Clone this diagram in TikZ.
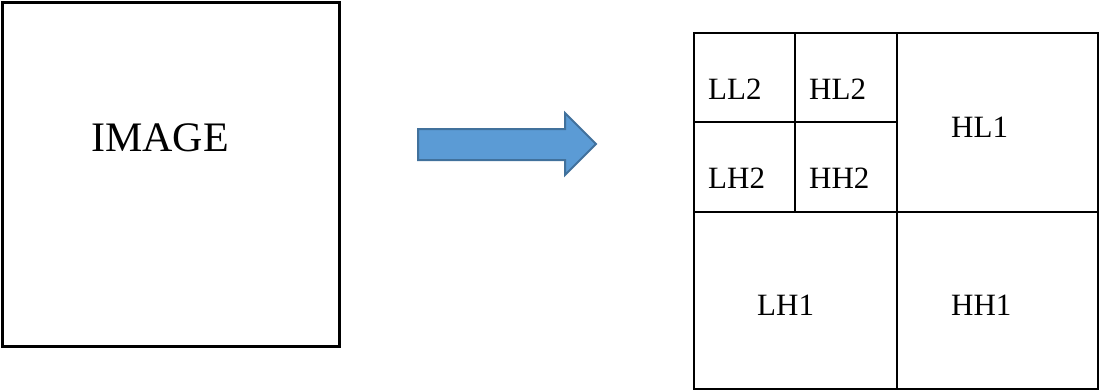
\documentclass[tikz,border=0pt]{standalone}
\usepackage{fontspec}
\setmainfont{Liberation Serif}
\definecolor{arrowfill}{HTML}{5B9BD5}
\definecolor{arrowline}{HTML}{41719C}
\tikzset{
  frame/.style={draw=black, line width=3pt},
  gridline/.style={draw=black, line width=2.6pt},
  biglabel/.style={anchor=base west, inner sep=0pt, font=\fontsize{42}{42}\selectfont},
  cell/.style={anchor=base west, inner sep=0pt, font=\fontsize{31}{31}\selectfont},
  bluearrow/.style={fill=arrowfill, draw=arrowline, line width=2pt, line join=miter}
}
\begin{document}
\begin{tikzpicture}[x=1pt,y=-1pt]
\useasboundingbox (0,0) rectangle (1100,391);
% input image
\draw[frame] (2,2) rectangle (339,346);
\node[biglabel] (img) at (91,151) {IMAGE};
% arrow
\draw[bluearrow] (418,129) -- (565,129) -- (565,113) -- (596,144) -- (565,175) -- (565,160) -- (418,160) -- cycle;
% decomposition grid
\draw[gridline] (694,33) rectangle (1098,389);
\draw[gridline] (897,33) -- (897,389);
\draw[gridline] (694,212) -- (1098,212);
\draw[gridline] (795,33) -- (795,212);
\draw[gridline] (694,122) -- (897,122);
\node[cell] (ll2) at (708,99) {LL2};
\node[cell] (hl2) at (809,99) {HL2};
\node[cell] (lh2) at (708,188) {LH2};
\node[cell] (hh2) at (809,188) {HH2};
\node[cell] (hl1) at (951,137) {HL1};
\node[cell] (lh1) at (757,315) {LH1};
\node[cell] (hh1) at (951,315) {HH1};
\end{tikzpicture}
\end{document}
